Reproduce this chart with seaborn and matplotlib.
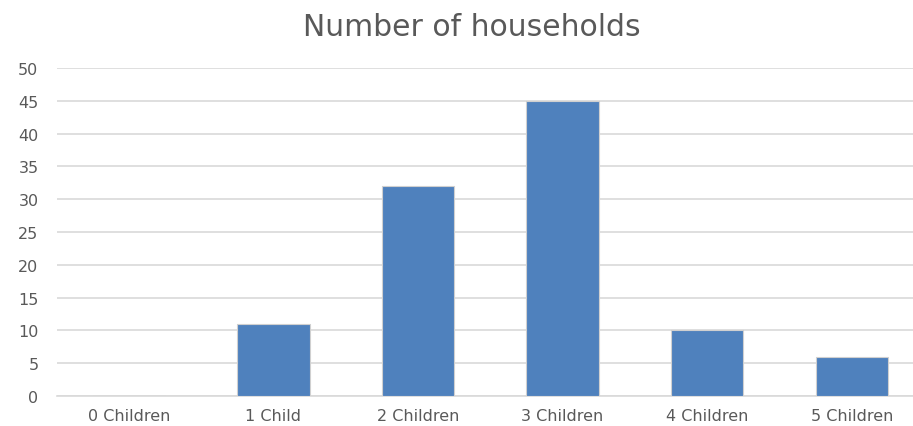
import matplotlib
matplotlib.use("Agg")
import matplotlib.pyplot as plt
import seaborn as sns
import pandas as pd

categories = ["0 Children", "1 Child", "2 Children", "3 Children", "4 Children", "5 Children"]
households = [0, 11, 32, 45, 10, 6]
y_ticks = [0, 5, 10, 15, 20, 25, 30, 35, 40, 45, 50]

df = pd.DataFrame({"category": categories, "households": households})

sns.set_theme(style="white")
plt.rcParams["font.family"] = ["DejaVu Sans"]

W, H = 913, 427
fig = plt.figure(figsize=(W / 100, H / 100), dpi=100)
left, right = 56.5, 56.5 + 6 * 144.6
bottom, top = 30, 358
ax = fig.add_axes([left / W, bottom / H, (right - left) / W, (top - bottom) / H])

sns.barplot(data=df, x="category", y="households", color="#4F81BD",
            saturation=1, width=0.5, edgecolor="#D0D0D0", linewidth=0.8,
            ax=ax, zorder=3)

ax.set_xlim(-0.5, 5.5)
ax.set_ylim(0, 50)
ax.set_yticks(y_ticks)
ax.yaxis.grid(True, color="#D9D9D9", linewidth=1.2, zorder=0)
ax.set_axisbelow(True)
for s in ["left", "right", "top"]:
    ax.spines[s].set_visible(False)
ax.spines["bottom"].set_color("#D9D9D9")
ax.spines["bottom"].set_linewidth(1.2)
ax.set_xlabel("")
ax.set_ylabel("")
ax.tick_params(axis="both", length=0, colors="#595959", labelsize=11.5)
ax.tick_params(axis="y", pad=13)
ax.tick_params(axis="x", pad=9)

fig.text(472 / W, 1 - 27 / H, "Number of households", ha="center", va="center",
         fontsize=21.5, color="#595959")

fig.savefig("out.png", dpi=100, facecolor="white")
